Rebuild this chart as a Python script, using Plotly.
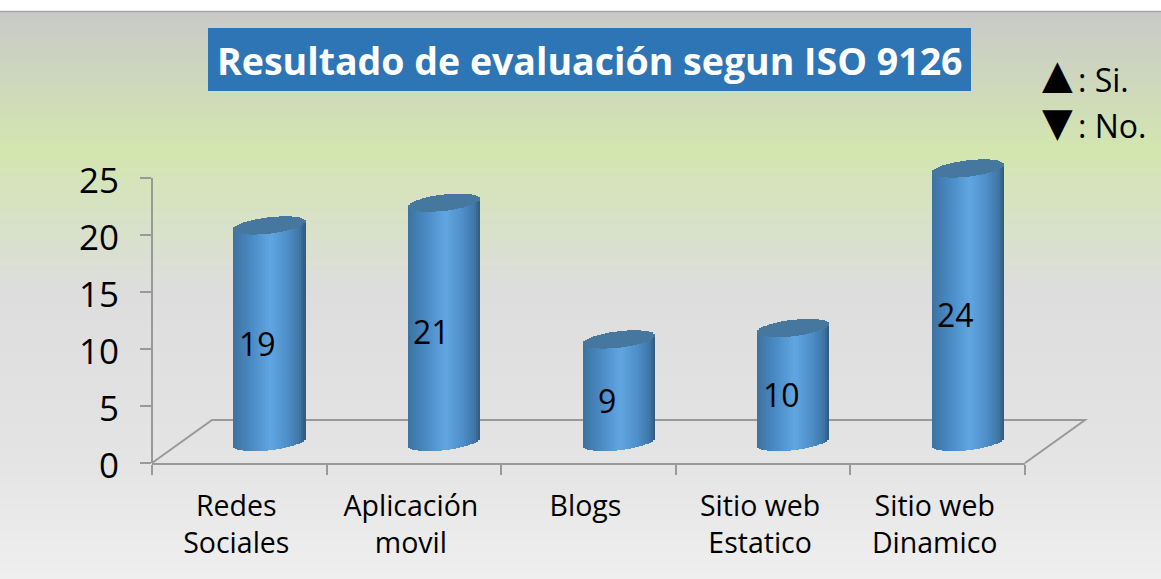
import math
import plotly.graph_objects as go

categories = ["Redes<br>Sociales", "Aplicación<br>movil", "Blogs", "Sitio web<br>Estatico", "Sitio web<br>Dinamico"]
values = [19, 21, 9, 10, 24]
y_ticks = [0, 5, 10, 15, 20, 25]
title_text = "Resultado de evaluación segun ISO 9126"

W, H = 1161, 579
L, R, B = 152, 1025, 463
UX = (R - L) / 5
UY = 11.4
Y_TOP = 27.2            # room above 25 so the cylinders are not cut off
T = B - Y_TOP * UY


def px(x):
    return (x - L) / (R - L)


def py(y):
    return (B - y) / (B - T)


def lerp(a, b, t):
    return tuple(a[i] + (b[i] - a[i]) * t for i in range(3))


def ramp(stops, t):
    for (t0, c0), (t1, c1) in zip(stops, stops[1:]):
        if t <= t1:
            c = lerp(c0, c1, (t - t0) / (t1 - t0))
            return "rgb(%d,%d,%d)" % tuple(round(v) for v in c)
    return "rgb(%d,%d,%d)" % stops[-1][1]


bg_stops = [(12, (201, 201, 201)), (150, (211, 230, 176)), (290, (221, 221, 221)),
            (460, (228, 228, 228)), (579, (239, 239, 239))]
shapes = []
for y in range(12, 579, 3):
    shapes.append(dict(type="rect", xref="paper", yref="paper", layer="below",
                       x0=px(0), x1=px(W), y0=py(y), y1=py(y + 3.5), line_width=0,
                       fillcolor=ramp(bg_stops, y + 1.5)))
shapes.append(dict(type="line", xref="paper", yref="paper", layer="below",
                   x0=px(0), x1=px(W), y0=py(11.5), y1=py(11.5), line=dict(color="#a6a6a6", width=1.5)))
# floor of the 3D plot
floor = f"M {px(L)} {py(B)} L {px(212)} {py(420)} L {px(1085)} {py(420)} L {px(R)} {py(B)}"
shapes.append(dict(type="path", xref="paper", yref="paper", layer="below", path=floor,
                   line=dict(color="#999999", width=2)))
# y axis line, stops at 25
shapes.append(dict(type="line", xref="paper", yref="y", layer="below",
                   x0=0, x1=0, y0=0, y1=25, line=dict(color="#999999", width=2)))
# title box
shapes.append(dict(type="rect", xref="paper", yref="paper", layer="below",
                   x0=px(208), x1=px(971), y0=py(28), y1=py(91), line_width=0, fillcolor="#2e75b6"))

fig = go.Figure()

# Pseudo-3D cylinder: thin strips across each column
side_stops = [(-1, (61, 114, 160)), (-0.5, (74, 138, 196)), (0.05, (96, 166, 226)),
              (0.5, (79, 143, 202)), (0.85, (63, 118, 166)), (1, (48, 89, 122))]
N = 36
bar_w = 72 / UX
strip = bar_w / N
first = 30 / UX - bar_w / 2   # column centre sits 30 px right of the category centre
depth = (B - 442) / UY
tilt_px, cap_px = 4.0, 8.2
for k in range(N):
    u = (k + 0.5) / N * 2 - 1
    s = math.sqrt(max(0, 1 - u * u))
    tilt = tilt_px * u / UY
    cap = cap_px * s / UY
    common = dict(x=categories, width=strip * 1.15, offset=first + k * strip,
                  cliponaxis=False, hoverinfo="skip", showlegend=False)
    fig.add_bar(y=values, base=[depth + tilt - cap] * len(values),
                marker=dict(color=ramp(side_stops, u), line_width=0), **common)
    fig.add_bar(y=[2 * cap] * len(values), base=[v + depth + tilt - cap for v in values],
                marker=dict(color="#46779f", line_width=0), **common)

note = dict(xref="paper", yref="paper", showarrow=False, yanchor="middle")
annotations = [
    dict(note, x=px(589.5), y=py(60), xanchor="center", text=f"<b>{title_text}</b>",
         font=dict(family="Open Sans", size=37.5, color="white")),
    dict(note, x=px(1057), y=py(74), xanchor="center", text="▲",
         font=dict(family="DejaVu Sans", size=40, color="black")),
    dict(note, x=px(1057), y=py(122), xanchor="center", text="▼",
         font=dict(family="DejaVu Sans", size=40, color="black")),
    dict(note, x=px(1076), y=py(79), xanchor="left", text=": Si.",
         font=dict(family="Open Sans", size=32, color="black")),
    dict(note, x=px(1076), y=py(125), xanchor="left", text=": No.",
         font=dict(family="Open Sans", size=32, color="black")),
]
for i, v in enumerate(values):
    annotations.append(dict(xref="x", yref="y", x=i, y=v / 2 + 1, xshift=18, text=str(v), showarrow=False,
                            xanchor="center", yanchor="middle",
                            font=dict(family="Open Sans", size=32, color="black")))

axis_line = dict(ticks="outside", tickcolor="#999999", tickwidth=1.5, showgrid=False, zeroline=False)
fig.update_layout(
    width=W, height=H, autosize=False,
    margin=dict(l=L, r=W - R, t=T, b=H - B, pad=0),
    paper_bgcolor="white", plot_bgcolor="rgba(0,0,0,0)",
    barmode="overlay", bargap=0, showlegend=False,
    shapes=shapes, annotations=annotations,
    xaxis=dict(type="category", range=[-0.5, 4.5], tickson="boundaries", ticklen=10, ticklabelstandoff=17,
               ticklabelshift=-3, showline=True, linecolor="#999999", linewidth=2,
               tickfont=dict(family="Open Sans", size=28.5, color="black"), **axis_line),
    yaxis=dict(range=[0, Y_TOP], tickvals=y_ticks, ticklen=11, ticklabelstandoff=14, ticklabelshift=3,
               showline=False, tickfont=dict(family="Open Sans", size=35, color="black"), **axis_line),
)

fig.write_html("out.html", config=dict(displayModeBar=False), post_script="document.body.style.margin='0';")
